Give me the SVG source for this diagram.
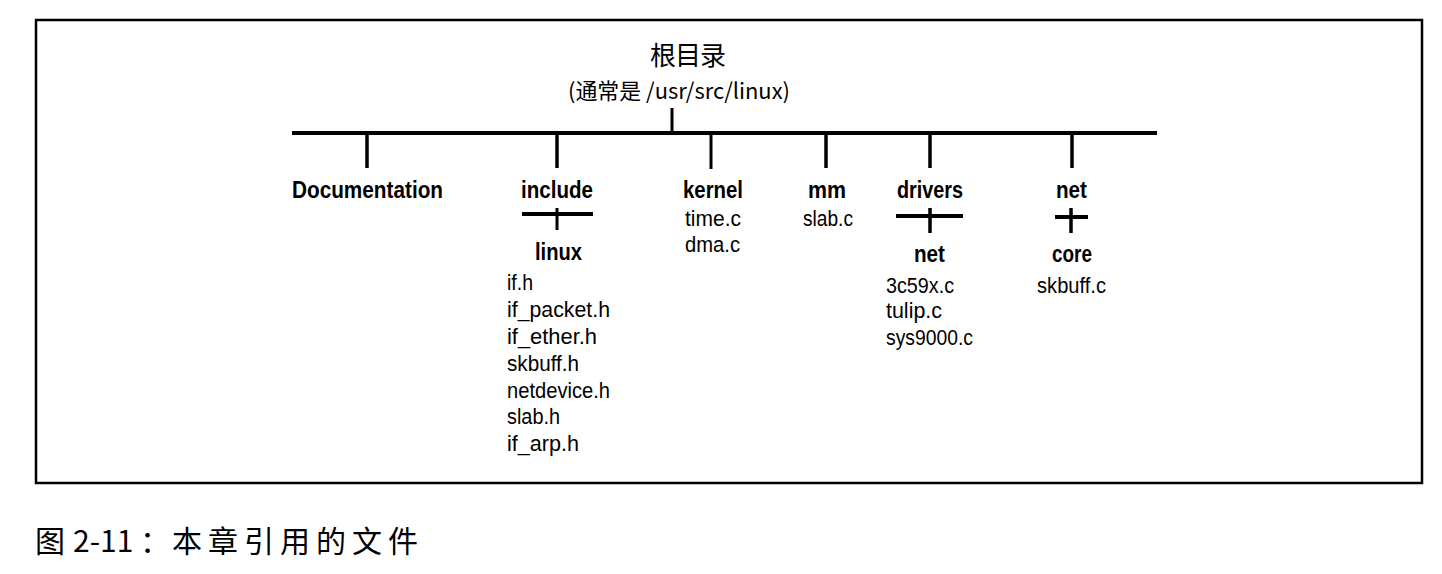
<svg xmlns="http://www.w3.org/2000/svg" width="1442" height="574" viewBox="0 0 1442 574">
<style>
.b{font-family:"Liberation Sans","Noto Sans CJK SC",sans-serif;font-weight:bold;font-size:23px;fill:#000}
.r{font-family:"Liberation Sans","Noto Sans CJK SC",sans-serif;font-size:22px;fill:#000}
.c{text-anchor:middle}
.cjk{font-family:"Noto Sans CJK SC","Liberation Sans",sans-serif;fill:#000}
.ln{stroke:#000;fill:none;stroke-linecap:butt}
</style>
<rect x="0" y="0" width="1442" height="574" fill="#fff"/>
<rect id="frame" x="36" y="20" width="1386" height="463" fill="none" stroke="#000" stroke-width="2.5"/>
<g id="connectors" class="ln">
  <line x1="672" y1="108" x2="672" y2="132" stroke-width="3"/>
  <line x1="292" y1="133" x2="1157" y2="133" stroke-width="4"/>
  <line x1="367" y1="133" x2="367" y2="168" stroke-width="3.5"/>
  <line x1="557" y1="133" x2="557" y2="168" stroke-width="3.5"/>
  <line x1="711" y1="133" x2="711" y2="169" stroke-width="3"/>
  <line x1="826" y1="133" x2="826" y2="168" stroke-width="3.5"/>
  <line x1="930" y1="133" x2="930" y2="168" stroke-width="3.5"/>
  <line x1="1072" y1="133" x2="1072" y2="168" stroke-width="3.5"/>
  <line x1="522" y1="214" x2="593" y2="214" stroke-width="4"/>
  <line x1="557" y1="208" x2="557" y2="230" stroke-width="3"/>
  <line x1="896" y1="216" x2="963" y2="216" stroke-width="4"/>
  <line x1="930" y1="208" x2="930" y2="233" stroke-width="3.5"/>
  <line x1="1055" y1="217" x2="1088" y2="217" stroke-width="4"/>
  <line x1="1071" y1="208" x2="1071" y2="233" stroke-width="3.5"/>
</g>
<g id="root">
  <text class="cjk c" x="688" y="65" font-size="26" textLength="76" lengthAdjust="spacing">根目录</text>
  <text class="cjk c" x="679" y="99" font-size="22" textLength="222" lengthAdjust="spacingAndGlyphs">(通常是 /usr/src/linux)</text>
</g>
<g id="node-documentation">
  <text class="b c" x="367.5" y="198" textLength="151" lengthAdjust="spacingAndGlyphs">Documentation</text>
</g>
<g id="node-include">
  <text class="b c" x="557" y="198" textLength="72" lengthAdjust="spacingAndGlyphs">include</text>
  <text class="b c" x="558.5" y="260" textLength="47" lengthAdjust="spacingAndGlyphs">linux</text>
  <text class="r" x="507" y="290" textLength="26" lengthAdjust="spacingAndGlyphs">if.h</text>
  <text class="r" x="507" y="317" textLength="103" lengthAdjust="spacingAndGlyphs">if_packet.h</text>
  <text class="r" x="507" y="344" textLength="90" lengthAdjust="spacingAndGlyphs">if_ether.h</text>
  <text class="r" x="507" y="371" textLength="72" lengthAdjust="spacingAndGlyphs">skbuff.h</text>
  <text class="r" x="507" y="398" textLength="103" lengthAdjust="spacingAndGlyphs">netdevice.h</text>
  <text class="r" x="507" y="424" textLength="53" lengthAdjust="spacingAndGlyphs">slab.h</text>
  <text class="r" x="507" y="451" textLength="72" lengthAdjust="spacingAndGlyphs">if_arp.h</text>
</g>
<g id="node-kernel">
  <text class="b c" x="713" y="198" textLength="60" lengthAdjust="spacingAndGlyphs">kernel</text>
  <text class="r c" x="713" y="226" textLength="56" lengthAdjust="spacingAndGlyphs">time.c</text>
  <text class="r c" x="712.5" y="252" textLength="55" lengthAdjust="spacingAndGlyphs">dma.c</text>
</g>
<g id="node-mm">
  <text class="b c" x="827" y="198" textLength="38" lengthAdjust="spacingAndGlyphs">mm</text>
  <text class="r c" x="828" y="226" textLength="50" lengthAdjust="spacingAndGlyphs">slab.c</text>
</g>
<g id="node-drivers">
  <text class="b c" x="930" y="198" textLength="66" lengthAdjust="spacingAndGlyphs">drivers</text>
  <text class="b c" x="929.5" y="262" textLength="31" lengthAdjust="spacingAndGlyphs">net</text>
  <text class="r" x="886" y="293" textLength="68" lengthAdjust="spacingAndGlyphs">3c59x.c</text>
  <text class="r" x="886" y="318" textLength="56" lengthAdjust="spacingAndGlyphs">tulip.c</text>
  <text class="r" x="886" y="345" textLength="87" lengthAdjust="spacingAndGlyphs">sys9000.c</text>
</g>
<g id="node-net">
  <text class="b c" x="1071.5" y="198" textLength="31" lengthAdjust="spacingAndGlyphs">net</text>
  <text class="b c" x="1072" y="262" textLength="40" lengthAdjust="spacingAndGlyphs">core</text>
  <text class="r c" x="1071.5" y="293" textLength="69" lengthAdjust="spacingAndGlyphs">skbuff.c</text>
</g>
<g id="caption">
  <text class="cjk" y="552" font-size="30"><tspan x="35">图</tspan><tspan x="73">2-11</tspan><tspan x="140">：</tspan><tspan x="172" letter-spacing="6">本章引用的文件</tspan></text>
</g>
</svg>
